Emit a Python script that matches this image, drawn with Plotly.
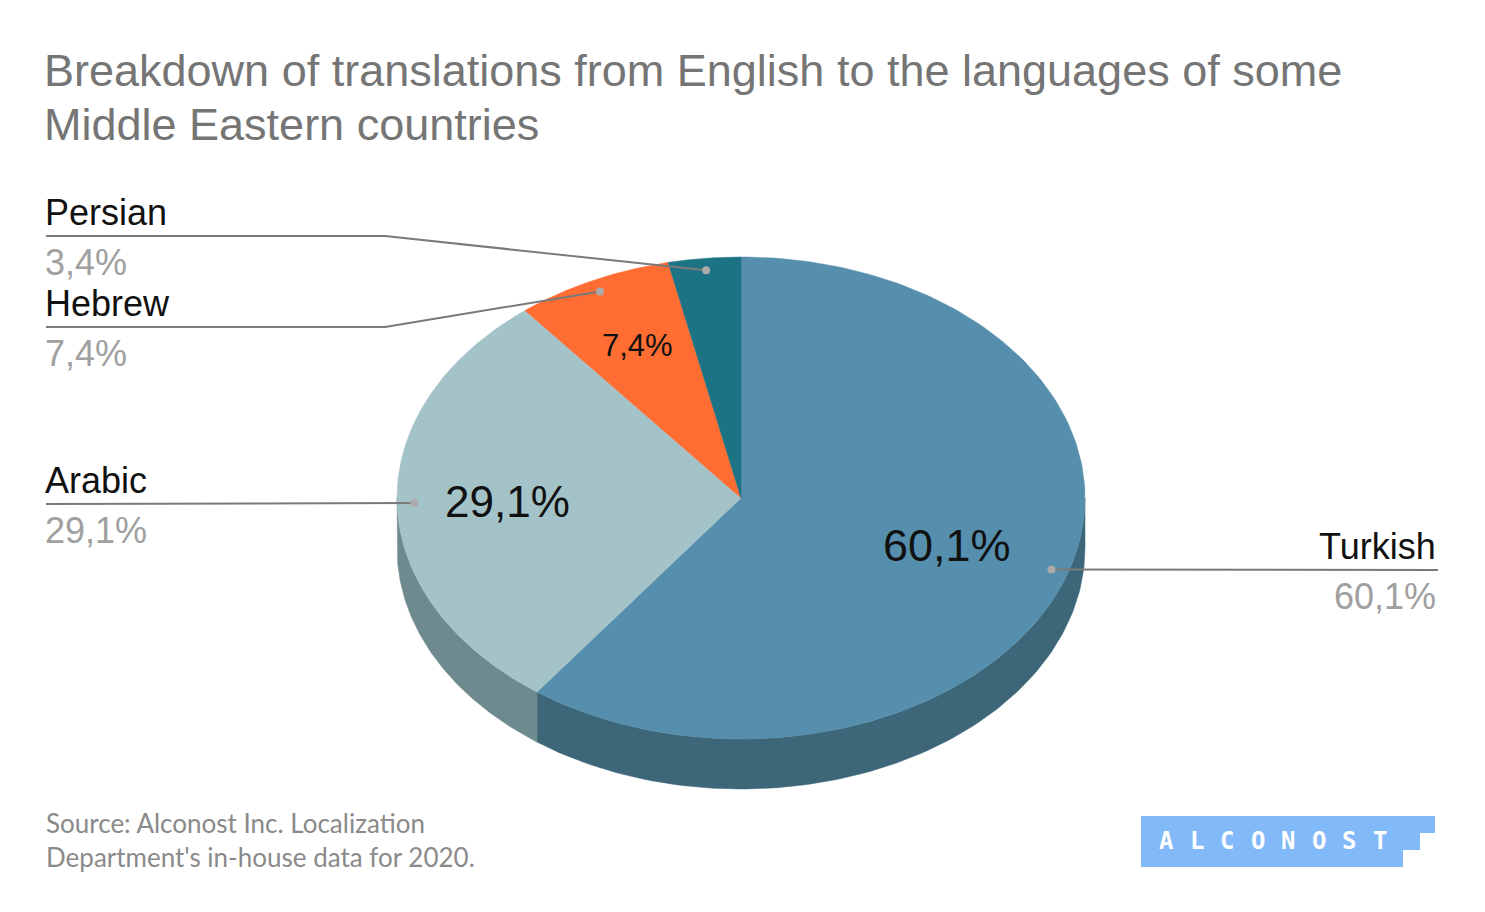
import numpy as np
import plotly.graph_objects as go

# ---------------- data ----------------
languages = ["Turkish", "Arabic", "Hebrew", "Persian"]
shares = [60.1, 29.1, 7.4, 3.4]
share_labels = ["60,1%", "29,1%", "7,4%", "3,4%"]

title_lines = ["Breakdown of translations from English to the languages of some",
               "Middle Eastern countries"]
source_text = "Source: Alconost Inc. Localization<br>Department's in-house data for 2020."
logo_text = "ALCONOST"

# ---------------- style ----------------
top_colors = ["#568FAD", "#A4C3C8", "#FF6D33", "#1C7384"]
side_colors = ["#3D6678", "#6E8A8E", "#B34C24", "#14515D"]
CX, CY, RX, RY, DEPTH = 741, 498, 344, 241, 50
inner_r = [0.63, 0.68, 0.70, 0.70]
inner_size = [45, 44, 31, 0]
label_side = ["right", "left", "left", "left"]
label_line_y = [570, 504, 327, 236]
label_elbow_x = [None, None, 385, 385]
LEFT_X, RIGHT_X = 46, 1438
FONT = "Liberation Sans, Arial, sans-serif"
OFF = 8  # default page body margin


def pt(t, r=1.0, dy=0.0):
    return CX + r * RX * np.sin(t), CY - r * RY * np.cos(t) + dy


total = sum(shares)
fr = np.array(shares) / total
ends = np.cumsum(fr) * 2 * np.pi
starts = ends - fr * 2 * np.pi

fig = go.Figure()

# side walls (visible front half)
for i in range(len(shares)):
    lo, hi = max(starts[i], np.pi / 2), min(ends[i], 3 * np.pi / 2)
    if hi <= lo:
        continue
    ts = np.linspace(lo, hi, 120)
    x1, y1 = pt(ts)
    x2, y2 = pt(ts[::-1], dy=DEPTH)
    xs = np.concatenate([x1, x2, x1[:1]])
    ys = np.concatenate([y1, y2, y1[:1]])
    fig.add_trace(go.Scatter(x=xs, y=ys, mode="lines", fill="toself",
                             fillcolor=side_colors[i],
                             line=dict(color=side_colors[i], width=0.5),
                             hoverinfo="skip", showlegend=False))

# top faces
for i in range(len(shares)):
    ts = np.linspace(starts[i], ends[i], 200)
    ax, ay = pt(ts)
    xs = np.concatenate([[CX], ax, [CX]])
    ys = np.concatenate([[CY], ay, [CY]])
    fig.add_trace(go.Scatter(x=xs, y=ys, mode="lines", fill="toself",
                             fillcolor=top_colors[i],
                             line=dict(color=top_colors[i], width=0.5),
                             name=languages[i], hoverinfo="name",
                             showlegend=False))

annotations = []
# leader lines, dots, labels
for i in range(len(shares)):
    mid = (starts[i] + ends[i]) / 2
    dx, dy = pt(mid, 0.95)
    ly = label_line_y[i]
    if label_side[i] == "right":
        lx = [dx, RIGHT_X]
        lyy = [dy, ly]
        tx, anchor = RIGHT_X, "right"
    else:
        if label_elbow_x[i] is None:
            lx = [LEFT_X, dx]
            lyy = [ly, dy]
        else:
            lx = [LEFT_X, label_elbow_x[i], dx]
            lyy = [ly, ly, dy]
        tx, anchor = LEFT_X - 3, "left"
    fig.add_trace(go.Scatter(x=lx, y=lyy, mode="lines",
                             line=dict(color="#7A7A7A", width=2),
                             hoverinfo="skip", showlegend=False))
    fig.add_trace(go.Scatter(x=[dx], y=[dy], mode="markers",
                             marker=dict(color="#AAAAAA", size=8),
                             hoverinfo="skip", showlegend=False))
    annotations.append(dict(x=tx, y=ly - 24, text=languages[i], showarrow=False,
                            xanchor=anchor, yanchor="middle",
                            font=dict(family=FONT, size=36, color="#111111")))
    annotations.append(dict(x=tx, y=ly + 26, text=share_labels[i], showarrow=False,
                            xanchor=anchor, yanchor="middle",
                            font=dict(family=FONT, size=36, color="#A0A0A0")))
    if inner_size[i] > 0:
        ix, iy = pt(mid, inner_r[i])
        annotations.append(dict(x=ix, y=iy, text=share_labels[i], showarrow=False,
                                xanchor="center", yanchor="middle",
                                font=dict(family=FONT, size=inner_size[i], color="#111111")))

# title and source
for k, line in enumerate(title_lines):
    annotations.append(dict(x=LEFT_X - 4, y=70 + 54 * k, text=line, showarrow=False,
                            xanchor="left", yanchor="middle", align="left",
                            font=dict(family=FONT, size=45, color="#757575")))
annotations.append(dict(x=LEFT_X - 2, y=840, text=source_text, showarrow=False,
                        xanchor="left", yanchor="middle", align="left",
                        font=dict(family="Lato, Open Sans, sans-serif", size=26, color="#8A8A8A")))

# logo
logo_path = "M 1141 816 L 1435 816 L 1435 833 L 1420 833 L 1420 850 L 1403 850 L 1403 867 L 1141 867 Z"
shapes = [dict(type="path", path=logo_path, xref="x", yref="y",
               fillcolor="#82B9F9", line=dict(width=0), layer="above")]
for k, ch in enumerate(logo_text):
    annotations.append(dict(x=1166 + k * 30.5, y=841, text="<b>" + ch + "</b>", showarrow=False,
                            xanchor="center", yanchor="middle",
                            font=dict(family="DejaVu Sans Mono, monospace", size=24, color="white")))

W, H = 1485 - 2 * OFF, 912 - 2 * OFF
fig.update_layout(
    width=W, height=H, autosize=False,
    margin=dict(l=0, r=0, t=0, b=0),
    paper_bgcolor="white", plot_bgcolor="white",
    xaxis=dict(range=[OFF, OFF + W], visible=False, fixedrange=True),
    yaxis=dict(range=[OFF + H, OFF], visible=False, fixedrange=True),
    annotations=annotations, shapes=shapes,
)

fig.write_html("out.html")
